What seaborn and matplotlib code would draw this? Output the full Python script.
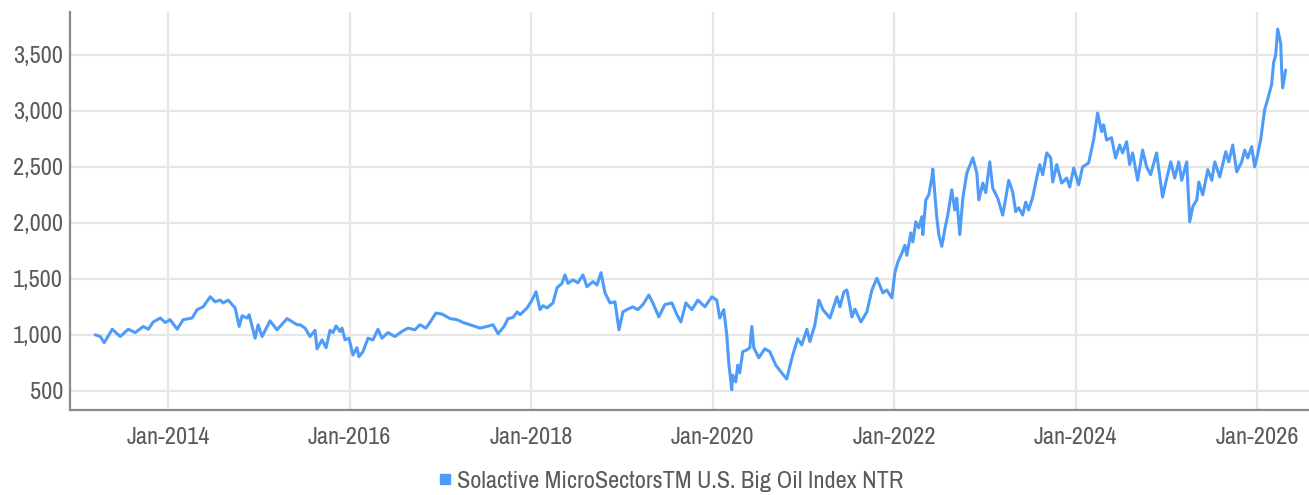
import numpy as np
import pandas as pd
import matplotlib.pyplot as plt
from matplotlib.lines import Line2D
from matplotlib.ticker import FuncFormatter
from matplotlib import font_manager
import seaborn as sns

dec_years = [
    2013.196, 2013.251, 2013.295, 2013.383, 2013.471, 2013.559, 2013.637, 2013.725,
    2013.780, 2013.835, 2013.912, 2013.967,
    2014.022, 2014.099, 2014.165, 2014.264, 2014.319, 2014.385, 2014.463, 2014.518,
    2014.573, 2014.606, 2014.661, 2014.738, 2014.782, 2014.815, 2014.870, 2014.892,
    2014.925, 2014.958, 2014.991,
    2015.035, 2015.123, 2015.200, 2015.311, 2015.421, 2015.454, 2015.509, 2015.564,
    2015.619, 2015.641, 2015.696, 2015.740, 2015.784, 2015.817, 2015.850, 2015.894,
    2015.916, 2015.949, 2015.993,
    2016.037, 2016.081, 2016.103, 2016.148, 2016.203, 2016.258, 2016.313, 2016.357,
    2016.423, 2016.500, 2016.577, 2016.643, 2016.720, 2016.775, 2016.841, 2016.885,
    2016.952,
    2017.018, 2017.106, 2017.183, 2017.249, 2017.326, 2017.436, 2017.513, 2017.579,
    2017.634, 2017.700, 2017.744, 2017.799, 2017.844, 2017.877, 2017.954,
    2018.009, 2018.053, 2018.097, 2018.130, 2018.174, 2018.240, 2018.284, 2018.339,
    2018.372, 2018.405, 2018.460, 2018.515, 2018.570, 2018.614, 2018.680, 2018.725,
    2018.769, 2018.813, 2018.868, 2018.923, 2018.967,
    2019.011, 2019.066, 2019.121, 2019.176, 2019.231, 2019.297, 2019.341, 2019.407,
    2019.473, 2019.551, 2019.606, 2019.650, 2019.705, 2019.771, 2019.837, 2019.914,
    2019.991,
    2020.046, 2020.079, 2020.123, 2020.156, 2020.178, 2020.211, 2020.222, 2020.255,
    2020.277, 2020.299, 2020.332, 2020.377, 2020.410, 2020.432, 2020.454, 2020.509,
    2020.575, 2020.630, 2020.696, 2020.762, 2020.817, 2020.850, 2020.883, 2020.938,
    2020.982,
    2021.037, 2021.070, 2021.125, 2021.169, 2021.213, 2021.291, 2021.368, 2021.401,
    2021.445, 2021.478, 2021.533, 2021.566, 2021.632, 2021.698, 2021.753, 2021.808,
    2021.874, 2021.918, 2021.973,
    2022.007, 2022.040, 2022.084, 2022.117, 2022.139, 2022.183, 2022.205, 2022.238,
    2022.271, 2022.304, 2022.315, 2022.348, 2022.381, 2022.414, 2022.425, 2022.469,
    2022.491, 2022.524, 2022.557, 2022.590, 2022.634, 2022.667, 2022.689, 2022.722,
    2022.756, 2022.800, 2022.866, 2022.910, 2022.932, 2022.976,
    2023.009, 2023.053, 2023.086, 2023.141, 2023.196, 2023.229, 2023.262, 2023.306,
    2023.339, 2023.372, 2023.416, 2023.449, 2023.482, 2023.526, 2023.570, 2023.604,
    2023.637, 2023.681, 2023.725, 2023.747, 2023.791, 2023.846, 2023.901, 2023.934,
    2023.978,
    2024.033, 2024.077, 2024.143, 2024.198, 2024.242, 2024.286, 2024.308, 2024.341,
    2024.396, 2024.440, 2024.485, 2024.518, 2024.562, 2024.595, 2024.628, 2024.683,
    2024.738, 2024.782, 2024.826, 2024.892, 2024.958,
    2025.002, 2025.046, 2025.090, 2025.134, 2025.167, 2025.222, 2025.255, 2025.289,
    2025.333, 2025.355, 2025.399, 2025.454, 2025.498, 2025.531, 2025.586, 2025.652,
    2025.685, 2025.729, 2025.773, 2025.828, 2025.861, 2025.894, 2025.938, 2025.971,
    2026.004, 2026.037, 2026.081, 2026.114, 2026.158, 2026.180, 2026.203, 2026.225,
    2026.258, 2026.269, 2026.280, 2026.313,
]

index_values = [
    1000, 985, 930, 1050, 985, 1050, 1020, 1075,
    1050, 1115, 1150, 1110,
    1135, 1050, 1135, 1150, 1225, 1250, 1340, 1295,
    1310, 1285, 1310, 1240, 1075, 1170, 1150, 1180,
    1075, 970, 1090,
    985, 1125, 1045, 1145, 1090, 1090, 1060, 985,
    1040, 875, 955, 885, 1040, 1020, 1080, 1030,
    1060, 955, 970,
    820, 885, 805, 850, 970, 955, 1050, 970,
    1020, 985, 1030, 1060, 1045, 1090, 1060, 1110,
    1195,
    1185, 1145, 1135, 1110, 1090, 1060, 1075, 1090,
    1010, 1075, 1145, 1155, 1205, 1180, 1240,
    1310, 1385, 1225, 1260, 1240, 1285, 1420, 1460,
    1535, 1460, 1490, 1465, 1535, 1430, 1475, 1445,
    1555, 1375, 1285, 1295, 1045,
    1205, 1230, 1250, 1225, 1270, 1355, 1285, 1160,
    1270, 1285, 1180, 1115, 1285, 1225, 1310, 1250,
    1340,
    1310, 1150, 1225, 1000, 750, 510, 640, 580,
    730, 660, 850, 865, 885, 1075, 885, 795,
    875, 850, 730, 660, 605, 715, 820, 965,
    910,
    1050, 940, 1090, 1310, 1225, 1150, 1340, 1250,
    1385, 1400, 1160, 1230, 1115, 1205, 1400, 1505,
    1375, 1400, 1330,
    1555, 1650, 1730, 1800, 1710, 1910, 1830, 2010,
    1955, 2055, 1895, 2205, 2250, 2400, 2480, 2045,
    1895, 1790, 1940, 2070, 2295, 2115, 2220, 1895,
    2220, 2445, 2580, 2445, 2205, 2355,
    2270, 2545, 2310, 2220, 2070, 2220, 2380, 2275,
    2100, 2135, 2070, 2185, 2115, 2230, 2400, 2520,
    2430, 2625, 2580, 2365, 2520, 2355, 2400, 2320,
    2490,
    2340, 2500, 2535, 2740, 2980, 2815, 2875, 2740,
    2760, 2580, 2695, 2625, 2725, 2520, 2625, 2380,
    2650, 2500, 2430, 2625, 2230,
    2400, 2545, 2400, 2545, 2380, 2545, 2010, 2145,
    2205, 2365, 2250, 2475, 2380, 2545, 2410, 2635,
    2545, 2695, 2455, 2545, 2650, 2580, 2680, 2500,
    2610, 2740, 3010, 3100, 3235, 3430, 3500, 3730,
    3605, 3365, 3205, 3365,
]

series_name = "Solactive MicroSectorsTM U.S. Big Oil Index NTR"
y_ticks = [500, 1000, 1500, 2000, 2500, 3000, 3500]
x_tick_years = [2014, 2016, 2018, 2020, 2022, 2024, 2026]


def to_date(y):
    yr = int(np.floor(y))
    return pd.Timestamp(f"{yr}-01-01") + pd.Timedelta(days=(y - yr) * 365.25)


df = pd.DataFrame({
    "date": [to_date(y) for y in dec_years],
    "value": index_values,
})

# pick a narrow face if the box has one (the original uses a condensed font)
names = sorted({f.name for f in font_manager.fontManager.ttflist})
narrow = [n for n in names if "Narrow" in n or "Condensed" in n]

line_color = "#4f9cf8"
text_color = "#5a5a5a"

sns.set_theme(style="whitegrid")
plt.rcParams["font.family"] = narrow[:1] + ["Roboto", "DejaVu Sans"]

fig = plt.figure(figsize=(13.09, 4.95), dpi=100)
ax = fig.add_axes([0.0535, 0.172, 0.9465, 0.804])

sns.lineplot(data=df, x="date", y="value", color=line_color, linewidth=2.2, ax=ax)

ax.set_xlim(to_date(2012.92), to_date(2026.57))
ax.set_ylim(330, 3884)
ax.set_xticks([to_date(y) for y in x_tick_years])
ax.set_xticklabels([f"Jan-{y}" for y in x_tick_years])
ax.set_yticks(y_ticks)
ax.yaxis.set_major_formatter(FuncFormatter(lambda v, p: f"{int(v):,}"))
ax.set_xlabel("")
ax.set_ylabel("")

ax.grid(True, color="#e6e6e6", linewidth=1.6)
for side in ["top", "right"]:
    ax.spines[side].set_visible(False)
for side in ["left", "bottom"]:
    ax.spines[side].set_color("#8a8a8a")
    ax.spines[side].set_linewidth(1.6)

ax.tick_params(axis="x", length=0, pad=12, labelsize=17.5, labelcolor=text_color)
ax.tick_params(axis="y", length=0, pad=5, labelsize=17.5, labelcolor=text_color)

handle = Line2D([], [], color=line_color, marker="s", linestyle="none", markersize=7)
fig.legend([handle], [series_name], loc="center", bbox_to_anchor=(0.513, 0.028),
           frameon=False, fontsize=17.5, labelcolor=text_color,
           handlelength=0.5, handletextpad=0.25, borderaxespad=0)

fig.savefig("out.png", dpi=100)
